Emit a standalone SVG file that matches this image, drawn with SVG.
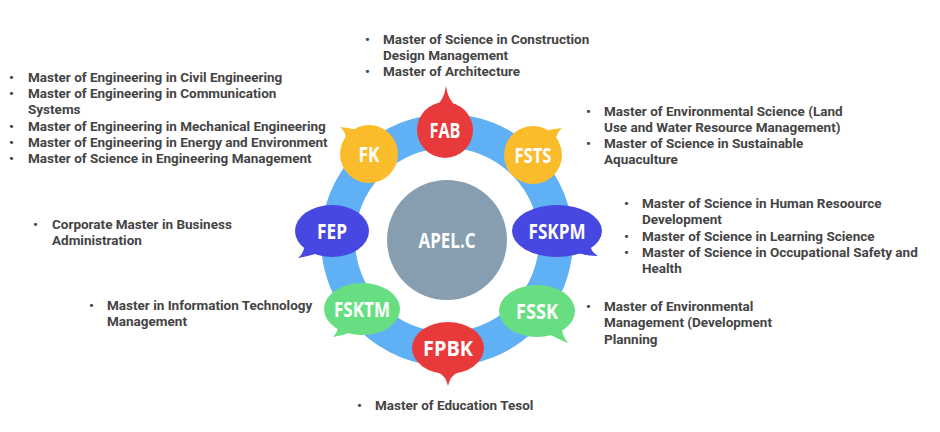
<svg xmlns="http://www.w3.org/2000/svg" width="940" height="432" viewBox="0 0 940 432">
<style>
.lst{font-family:Roboto,"Liberation Sans",sans-serif;font-weight:700;font-size:13.5px;fill:#444}
.lbl{font-family:"Open Sans","Noto Sans",sans-serif;font-weight:700;font-size:21px;fill:#fff;text-anchor:middle}
.red{fill:#e8393b}.yel{fill:#fbbc2b}.blu{fill:#4747e2}.grn{fill:#67de81}
</style>
<rect width="940" height="432" fill="#fff"/>
<g id="connectors">
<circle cx="447" cy="240" r="109" fill="none" stroke="#5fb0f5" stroke-width="34"/>
</g>
<g id="apelc">
<circle cx="447" cy="240" r="60" fill="#869eaf"/>
<text class="lbl" x="447" y="248" font-weight="600" textLength="57" lengthAdjust="spacingAndGlyphs">APEL.C</text>
</g>
<g id="fab">
<circle class="red" cx="445" cy="130" r="28"/>
<path class="red" d="M436 106 Q444 100 446 86 Q448 100 456 106 Z"/>
<text class="lbl" x="445" y="137.5" textLength="31" lengthAdjust="spacingAndGlyphs">FAB</text>
<g class="lst"><text x="365" y="44">•</text><text x="383" y="44">Master of Science in Construction</text><text x="383" y="60">Design Management</text><text x="365" y="76">•</text><text x="383" y="76">Master of Architecture</text></g>
</g>
<g id="fk">
<circle class="yel" cx="369" cy="154" r="29"/>
<path class="yel" d="M346 138 Q345 131 340 127 Q350 128 357 130 Z"/>
<text class="lbl" x="369" y="161.5" textLength="21" lengthAdjust="spacingAndGlyphs">FK</text>
<g class="lst"><text x="9" y="82">•</text><text x="28" y="82">Master of Engineering in Civil Engineering</text><text x="9" y="98">•</text><text x="28" y="98">Master of Engineering in Communication</text><text x="28" y="114">Systems</text><text x="9" y="131">•</text><text x="28" y="131">Master of Engineering in Mechanical Engineering</text><text x="9" y="147">•</text><text x="28" y="147">Master of Engineering in Energy and Environment</text><text x="9" y="163">•</text><text x="28" y="163">Master of Science in Engineering Management</text></g>
</g>
<g id="fsts">
<circle class="yel" cx="533" cy="155" r="29"/>
<path class="yel" d="M556 139 Q557 132 562 128 Q552 129 545 131 Z"/>
<text class="lbl" x="533" y="162.5" textLength="37" lengthAdjust="spacingAndGlyphs">FSTS</text>
<g class="lst"><text x="586" y="116">•</text><text x="604" y="116">Master of Environmental Science (Land</text><text x="604" y="132">Use and Water Resource Management)</text><text x="586" y="148">•</text><text x="604" y="148">Master of Science in Sustainable</text><text x="604" y="164">Aquaculture</text></g>
</g>
<g id="fep">
<ellipse class="blu" cx="332" cy="231" rx="37" ry="26"/>
<path class="blu" d="M304 244 Q305 252 298 258 Q310 256 318 253 Z"/>
<text class="lbl" x="332" y="238.5" textLength="30" lengthAdjust="spacingAndGlyphs">FEP</text>
<g class="lst"><text x="33" y="229">•</text><text x="52" y="229">Corporate Master in Business</text><text x="52" y="245">Administration</text></g>
</g>
<g id="fskpm">
<ellipse class="blu" cx="557" cy="231" rx="45" ry="26"/>
<path class="blu" d="M590 244 Q590 251 598 256 Q585 256 576 252 Z"/>
<text class="lbl" x="557" y="238.5" textLength="57" lengthAdjust="spacingAndGlyphs">FSKPM</text>
<g class="lst"><text x="624" y="208">•</text><text x="642" y="208">Master of Science in Human Resoource</text><text x="642" y="224">Development</text><text x="624" y="241">•</text><text x="642" y="241">Master of Science in Learning Science</text><text x="624" y="257">•</text><text x="642" y="257">Master of Science in Occupational Safety and</text><text x="642" y="273">Health</text></g>
</g>
<g id="fsktm">
<ellipse class="grn" cx="362" cy="309" rx="38" ry="26"/>
<path class="grn" d="M338 323 Q339 331 333 337 Q344 335 352 332 Z"/>
<text class="lbl" x="362" y="316.5" textLength="56" lengthAdjust="spacingAndGlyphs">FSKTM</text>
<g class="lst"><text x="89" y="310">•</text><text x="107" y="310">Master in Information Technology</text><text x="107" y="326">Management</text></g>
</g>
<g id="fssk">
<ellipse class="grn" cx="537" cy="311" rx="38" ry="26"/>
<path class="grn" d="M561 324 Q562 336 568 343 Q556 338 549 334 Z"/>
<text class="lbl" x="537" y="318.5" textLength="42" lengthAdjust="spacingAndGlyphs">FSSK</text>
<g class="lst"><text x="586" y="311">•</text><text x="604" y="311">Master of Environmental</text><text x="604" y="327">Management (Development</text><text x="604" y="344">Planning</text></g>
</g>
<g id="fpbk">
<ellipse class="red" cx="448" cy="348" rx="36" ry="26"/>
<path class="red" d="M438 372 Q446 376 448 386 Q450 376 458 372 Z"/>
<text class="lbl" x="448" y="355.5" textLength="50" lengthAdjust="spacingAndGlyphs">FPBK</text>
<g class="lst"><text x="357" y="410">•</text><text x="375" y="410">Master of Education Tesol</text></g>
</g>
</svg>
